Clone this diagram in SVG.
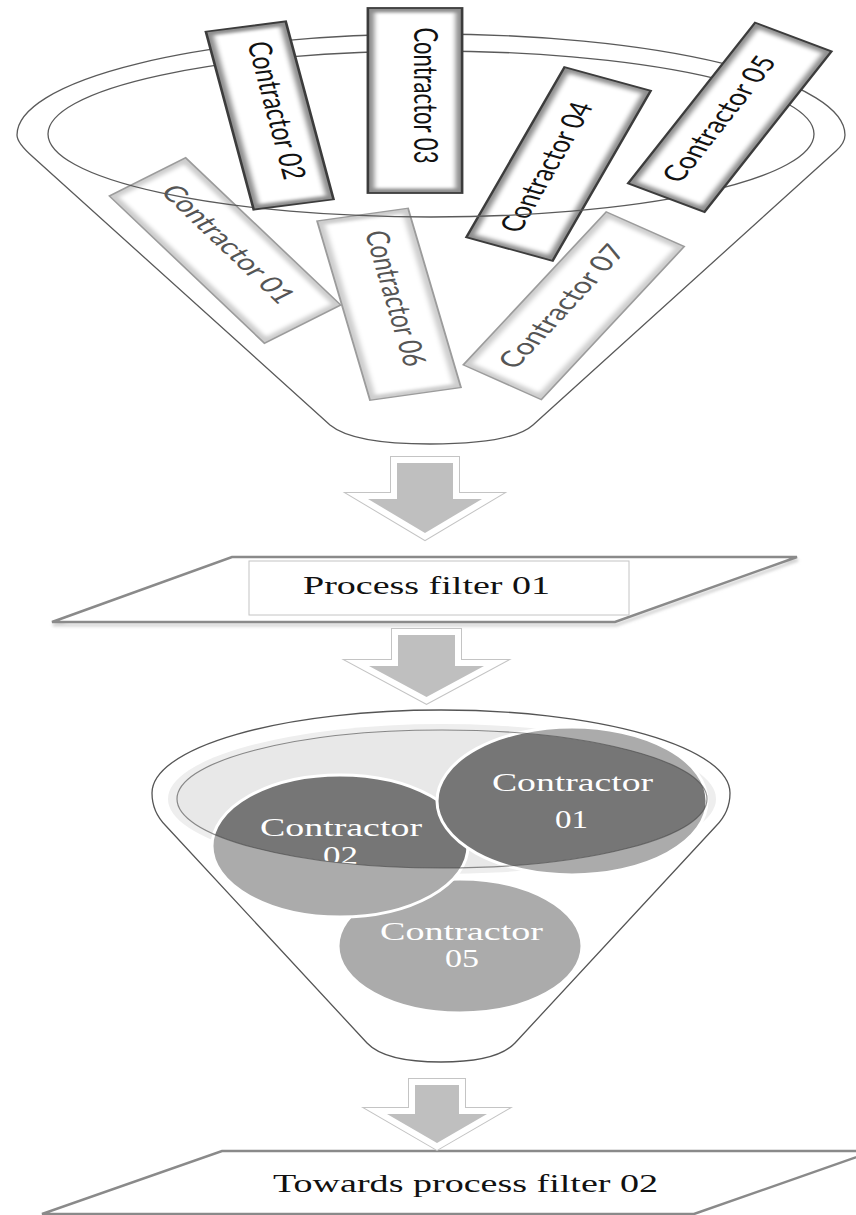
<svg xmlns="http://www.w3.org/2000/svg" width="856" height="1215" viewBox="0 0 856 1215">
  <style>
    .rim { fill: none; stroke: #5a5a5a; stroke-width: 1.3; }
    .bevel-dark { fill: #8e8e8e; }
    .bevel-light { fill: #cdcdcd; }
    .face { fill: #ffffff; }
    .edge-dark { fill: none; stroke: #3c3c3c; stroke-width: 1.8; }
    .edge-light { fill: none; stroke: #9c9c9c; stroke-width: 1.3; }
    .lbl { font-family: Lato, "Open Sans", "Liberation Sans", sans-serif; font-size: 22px; text-anchor: middle; }
    .lbl-dark { fill: #111111; }
    .lbl-light { fill: #555555; }
    .serif { font-family: "Liberation Serif", "Times New Roman", serif; text-anchor: middle; }
    .plate { fill: #ffffff; stroke: #8a8a8a; stroke-width: 2.5; stroke-linejoin: miter; }
    .plate-shadow { fill: none; stroke: #d2d2d2; stroke-width: 3; }
    .arrow-out { fill: none; stroke: #c4c4c4; stroke-width: 14; stroke-linejoin: miter; stroke-miterlimit: 10; }
    .arrow-band { fill: none; stroke: #ffffff; stroke-width: 12; stroke-linejoin: miter; stroke-miterlimit: 10; }
    .arrow-fill { fill: #bfbfbf; stroke: none; }
    .disc-light { fill: #ababab; }
    .disc-dark { fill: #767676; }
    .disc-edge { fill: none; stroke: #ffffff; stroke-width: 3; }
    .disc-txt { fill: #ffffff; font-size: 26px; }
  </style>
  <defs>
    <filter id="soft" x="-20%" y="-30%" width="140%" height="160%">
      <feGaussianBlur stdDeviation="1.8"/>
    </filter>
    <filter id="haze" x="-5%" y="-20%" width="110%" height="140%">
      <feGaussianBlur stdDeviation="1.5"/>
    </filter>
    <clipPath id="bowl">
      <ellipse cx="442" cy="799" rx="265" ry="69"/>
    </clipPath>
    <path id="arrow-a" d="M397,463 H453 V499 H482 L425,533 L368,499 H397 Z"/>
    <path id="arrow-b" d="M398,635 H455 V666 H484 L426.5,697 L369,666 H398 Z"/>
    <path id="arrow-c" d="M415,1085 H459 V1114 H487 L437,1143 L387,1114 H415 Z"/>
  </defs>

  <rect width="856" height="1215" fill="#ffffff"/>

  <!-- upper funnel: boxes that sit below the rim lines -->
  <g transform="scale(1.45,1)">
    <g id="contractor-01" transform="translate(155.2,250.5) rotate(54)">
      <rect class="bevel-light" x="-91" y="-32.5" width="182" height="65"/>
      <rect class="face" x="-86.5" y="-28" width="173" height="56" filter="url(#soft)"/>
      <rect class="edge-light" x="-91" y="-32.5" width="182" height="65"/>
      <text class="lbl lbl-light" x="-4" y="2" textLength="140" lengthAdjust="spacingAndGlyphs">Contractor 01</text>
    </g>
    <g id="contractor-06" transform="translate(268.3,304.3) rotate(78.5)">
      <rect class="bevel-light" x="-91.5" y="-32" width="183" height="64"/>
      <rect class="face" x="-87" y="-27.5" width="174" height="55" filter="url(#soft)"/>
      <rect class="edge-light" x="-91.5" y="-32" width="183" height="64"/>
      <text class="lbl lbl-light" x="-5" y="2" textLength="138" lengthAdjust="spacingAndGlyphs">Contractor 06</text>
    </g>
    <g id="contractor-07" transform="translate(395.7,305.7) rotate(-57.2)">
      <rect class="bevel-light" x="-91" y="-32" width="182" height="64"/>
      <rect class="face" x="-86.5" y="-27.5" width="173" height="55" filter="url(#soft)"/>
      <rect class="edge-light" x="-91" y="-32" width="182" height="64"/>
      <text class="lbl lbl-light" x="-5" y="1" textLength="142" lengthAdjust="spacingAndGlyphs">Contractor 07</text>
    </g>
    <g id="contractor-04" transform="translate(385.2,164) rotate(-68.3)">
      <rect class="bevel-dark" x="-91.5" y="-32" width="183" height="64"/>
      <rect class="face" x="-87" y="-27.5" width="174" height="55" filter="url(#soft)"/>
      <rect class="edge-dark" x="-91.5" y="-32" width="183" height="64"/>
      <text class="lbl lbl-dark" x="-6" y="1" textLength="138" lengthAdjust="spacingAndGlyphs">Contractor 04</text>
    </g>
  </g>

  <!-- upper funnel outline and rim -->
  <g id="funnel-top">
    <path class="rim" d="M17,135 A414,101 0 0 1 845,135 Q845,143 836,151 L533,425 Q512,444 430,444 Q353,444 330,425 L33,157 Q17,143 17,135 Z"/>
    <ellipse class="rim" cx="431" cy="134" rx="383" ry="83"/>
  </g>

  <!-- upper funnel: boxes that sit above the rim lines -->
  <g transform="scale(1.45,1)">
    <g id="contractor-02" transform="translate(186,115.5) rotate(79.5)">
      <rect class="bevel-dark" x="-90.5" y="-28" width="181" height="56"/>
      <rect class="face" x="-86" y="-23.5" width="172" height="47" filter="url(#soft)"/>
      <rect class="edge-dark" x="-90.5" y="-28" width="181" height="56"/>
      <text class="lbl lbl-dark" x="-4" y="2" textLength="140" lengthAdjust="spacingAndGlyphs">Contractor 02</text>
    </g>
    <g id="contractor-03" transform="translate(286.2,100.5) rotate(90)">
      <rect class="bevel-dark" x="-92.5" y="-32.5" width="185" height="65"/>
      <rect class="face" x="-88" y="-28" width="176" height="56" filter="url(#soft)"/>
      <rect class="edge-dark" x="-92.5" y="-32.5" width="185" height="65"/>
      <text class="lbl lbl-dark" x="-5" y="1" textLength="136" lengthAdjust="spacingAndGlyphs">Contractor 03</text>
    </g>
    <g id="contractor-05" transform="translate(503.3,117.3) rotate(-61.4)">
      <rect class="bevel-dark" x="-91.5" y="-30" width="183" height="60"/>
      <rect class="face" x="-87" y="-25.5" width="174" height="51" filter="url(#soft)"/>
      <rect class="edge-dark" x="-91.5" y="-30" width="183" height="60"/>
      <text class="lbl lbl-dark" x="-5" y="2" textLength="140" lengthAdjust="spacingAndGlyphs">Contractor 05</text>
    </g>
  </g>

  <!-- process filter 01 -->
  <g id="process-filter-01">
    <polygon class="plate-shadow" points="233,560 798,560 616,625 53,625" filter="url(#haze)"/>
    <polygon class="plate" points="232,557 797,557 615,622 52,622"/>
    <rect x="249" y="561" width="380" height="54" fill="#ffffff" stroke="#c4c4c4" stroke-width="1"/>
    <text class="serif" x="426.5" y="594" font-size="25" fill="#111111" textLength="247" lengthAdjust="spacingAndGlyphs">Process filter 01</text>
  </g>

  <!-- lower funnel -->
  <g id="funnel-bottom">
    <path d="M152,793 A289,83 0 0 1 730,793 Q730,812 716,826 L515,1043 Q497,1062 441,1062 Q385,1062 367,1043 L166,826 Q152,812 152,793 Z" fill="#ffffff" stroke="#555555" stroke-width="1.3"/>
    <ellipse cx="442" cy="799" rx="274" ry="75" fill="#eeeeee"/>
    <ellipse cx="442" cy="799" rx="265" ry="69" fill="#e8e8e8"/>
  </g>

  <g id="shortlist-05">
    <ellipse class="disc-light" cx="460" cy="946" rx="122" ry="67"/>
    <ellipse class="disc-edge" cx="460" cy="946" rx="122" ry="67"/>
    <text class="serif disc-txt" x="461.5" y="940" textLength="163" lengthAdjust="spacingAndGlyphs">Contractor</text>
    <text class="serif disc-txt" x="462" y="967" textLength="34" lengthAdjust="spacingAndGlyphs">05</text>
  </g>

  <g id="shortlist-02">
    <ellipse class="disc-light" cx="340" cy="846" rx="128" ry="71"/>
    <ellipse class="disc-dark" cx="340" cy="846" rx="128" ry="71" clip-path="url(#bowl)"/>
    <ellipse class="disc-edge" cx="340" cy="846" rx="128" ry="71"/>
    <text class="serif disc-txt" x="341" y="836" textLength="162" lengthAdjust="spacingAndGlyphs">Contractor</text>
    <text class="serif disc-txt" x="340.5" y="864" textLength="35" lengthAdjust="spacingAndGlyphs" clip-path="url(#bowl)">02</text>
  </g>

  <g id="shortlist-01">
    <ellipse class="disc-light" cx="572" cy="801" rx="135" ry="74"/>
    <ellipse class="disc-dark" cx="572" cy="801" rx="135" ry="74" clip-path="url(#bowl)"/>
    <ellipse class="disc-edge" cx="572" cy="801" rx="135" ry="74"/>
    <text class="serif disc-txt" x="572.5" y="791" textLength="161" lengthAdjust="spacingAndGlyphs">Contractor</text>
    <text class="serif disc-txt" x="571.5" y="828" textLength="33" lengthAdjust="spacingAndGlyphs">01</text>
  </g>

  <ellipse cx="442" cy="799" rx="265" ry="69" fill="none" stroke="#444444" stroke-width="1.2" stroke-opacity="0.6"/>

  <!-- towards process filter 02 -->
  <g id="process-filter-02">
    <polygon class="plate" points="222,1151 874,1151 694,1214 42,1214"/>
    <text class="serif" x="465.5" y="1192" font-size="26" fill="#111111" textLength="385" lengthAdjust="spacingAndGlyphs">Towards process filter 02</text>
  </g>

  <!-- flow arrows -->
  <g id="connectors">
    <use href="#arrow-a" class="arrow-out"/>
    <use href="#arrow-a" class="arrow-band"/>
    <use href="#arrow-a" class="arrow-fill"/>
    <use href="#arrow-b" class="arrow-out"/>
    <use href="#arrow-b" class="arrow-band"/>
    <use href="#arrow-b" class="arrow-fill"/>
    <use href="#arrow-c" class="arrow-out"/>
    <use href="#arrow-c" class="arrow-band"/>
    <use href="#arrow-c" class="arrow-fill"/>
  </g>
</svg>
